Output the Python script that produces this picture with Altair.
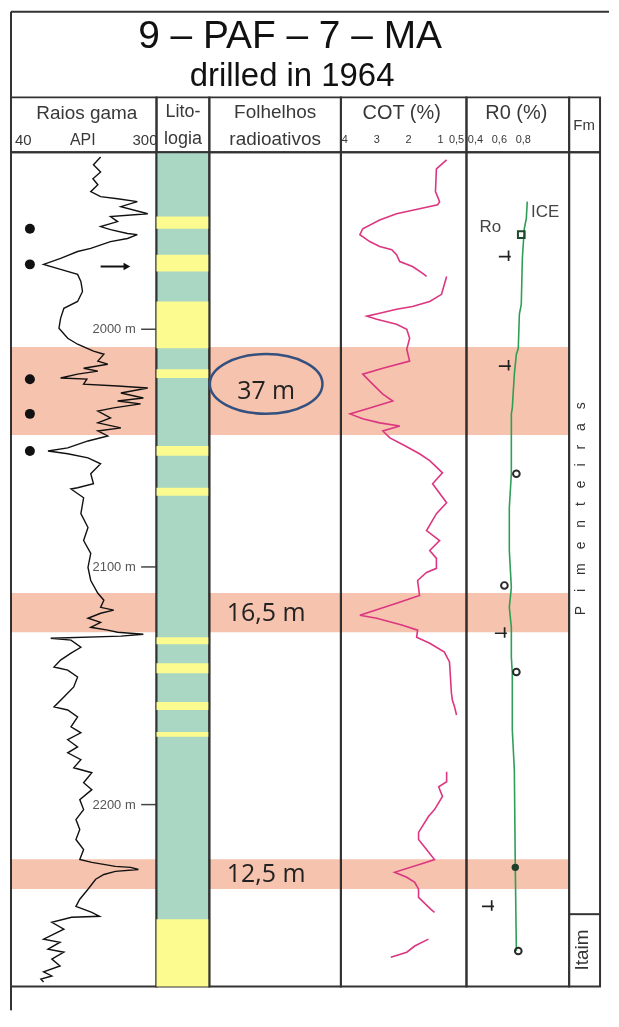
import altair as alt
import pandas as pd

# ---------------- texts ----------------
TITLE = "9 – PAF – 7 – MA"
SUBTITLE = "drilled in 1964"
HEAD_GR = "Raios gama"
HEAD_GR_UNIT = "API"
HEAD_LIT = ["Lito-", "logia"]
HEAD_FOL = ["Folhelhos", "radioativos"]
HEAD_COT = "COT (%)"
HEAD_RO = "R0 (%)"
HEAD_FM = "Fm"

DEPTH_DOMAIN = [1925.5, 2276.5]

# ---------------- gamma ray (API) ----------------
GR_DOMAIN = [34.5, 300]
gr_tick_values = [40, 300]
gr_tick_labels = ["40", "300"]
gr_depth = [1927.5, 1930.8, 1933.8, 1936.7, 1939.2, 1942.1, 1944.2, 1945.1, 1946.3, 1948.4,
            1951.4, 1952.6, 1954.7, 1956.8, 1958.1, 1959.7, 1960.2, 1961.8, 1963.1, 1966.0,
            1967.3, 1970.2, 1972.7, 1974.8, 1976.9, 1979.9, 1984.1, 1988.3, 1991.2, 1995.4,
            1999.6, 2003.8, 2006.3, 2009.2, 2010.5, 2013.4, 2014.7, 2016.4, 2017.6, 2018.9,
            2020.5, 2021.0, 2023.1, 2023.9, 2024.7, 2026.8, 2028.9, 2030.2, 2031.4, 2033.1,
            2034.4, 2037.3, 2039.4, 2041.5, 2042.8, 2044.9, 2047.0, 2049.9, 2051.2, 2052.4,
            2054.1, 2056.6, 2060.8, 2065.0, 2066.7, 2067.2, 2070.9, 2077.6, 2083.4, 2088.9,
            2094.3, 2100.2, 2105.7, 2111.1, 2114.0, 2117.0, 2118.2, 2119.5, 2121.6, 2123.3,
            2125.4, 2126.6, 2127.5, 2128.3, 2129.1, 2130.0, 2130.8, 2133.8, 2136.3, 2139.2,
            2142.1, 2143.4, 2146.3, 2150.5, 2154.7, 2158.9, 2160.2, 2163.1, 2167.3, 2169.8,
            2172.7, 2175.7, 2178.2, 2181.1, 2184.5, 2186.6, 2190.8, 2193.7, 2197.9, 2202.1,
            2206.3, 2210.5, 2214.7, 2218.9, 2223.1, 2224.3, 2226.0, 2226.4, 2227.3, 2228.1,
            2229.4, 2231.4, 2235.6, 2239.8, 2242.8, 2245.3, 2247.0, 2247.4, 2249.5, 2252.4,
            2256.6, 2257.9, 2260.8, 2262.1, 2265.0, 2267.9, 2270.4, 2272.1, 2273.4, 2274.6]
gr_api = [198, 185, 198, 184, 193, 180, 198, 229, 265, 235,
          284, 216, 229, 198, 216, 247, 265, 247, 216, 180,
          156, 125, 94, 125, 156, 162, 165, 156, 131, 125,
          122, 138, 156, 185, 204, 193, 211, 167, 193, 156,
          125, 173, 167, 229, 284, 235, 276, 229, 271, 222,
          193, 216, 193, 235, 193, 211, 175, 138, 102, 138,
          175, 198, 180, 185, 156, 144, 167, 162, 175, 167,
          180, 175, 180, 193, 204, 198, 222, 198, 175, 198,
          180, 211, 229, 276, 235, 107, 144, 162, 144, 125,
          113, 138, 156, 149, 131, 113, 138, 156, 144, 162,
          138, 156, 138, 162, 149, 182, 167, 182, 160, 167,
          153, 160, 153, 167, 160, 182, 225, 253, 267, 225,
          204, 189, 175, 160, 153, 182, 196, 145, 109, 131,
          94, 124, 102, 131, 109, 124, 94, 109, 89, 94]

dot_depth = [1957.7, 1972.7, 2021.0, 2035.6, 2051.2]
dot_api = [69, 69, 69, 69, 69]

arrow_depth = [1973.6]
arrow_from = [198]
arrow_to = [246]

depth_marks = [2000, 2100, 2200]
depth_mark_labels = ["2000 m", "2100 m", "2200 m"]
DEPTH_LABEL_API = 262
DEPTH_TICK_API = [272, 300]

# ---------------- radioactive shale intervals ----------------
band_top = [2007.5, 2111.0, 2223.0]
band_base = [2044.5, 2127.5, 2235.5]
band_label = ["37 m", "16,5 m", "12,5 m"]
circled_depth = [2023.0]

# ---------------- lithology (sandstone beds) ----------------
yellow_top = [1952.6, 1968.6, 1988.3, 2016.8, 2049.1, 2066.7, 2129.6, 2140.5, 2156.8, 2169.4, 2248.2]
yellow_base = [1957.7, 1975.7, 2008.0, 2020.5, 2053.2, 2070.0, 2132.5, 2144.7, 2160.2, 2171.5, 2276.5]

# ---------------- COT (%) ----------------
COT_DOMAIN = [4.125, 0.1875]
cot_tick_values = [4, 3, 2, 1, 0.5]
cot_tick_labels = ["4", "3", "2", "1", "0,5"]
cot1_depth = [1928.7, 1932.5, 1942.1, 1946.3, 1947.6, 1949.3, 1951.4, 1954.0, 1957.7, 1960.2,
              1963.1, 1965.2, 1966.5, 1968.6, 1971.5, 1973.6, 1976.5, 1977.8]
cot1_val = [0.81, 1.13, 1.16, 1.03, 1.09, 1.66, 2.38, 2.91, 3.44, 3.53,
            3.22, 2.91, 2.53, 2.38, 2.28, 1.88, 1.56, 1.44]
cot2_depth = [1977.8, 1981.1, 1985.3, 1988.3, 1990.4, 1991.6, 1993.3, 1994.5, 1995.8, 1997.9,
              2000.0, 2003.8, 2008.4, 2013.4, 2016.4, 2018.9, 2023.1, 2027.3, 2030.2, 2033.1,
              2035.6, 2037.7, 2039.4, 2040.7, 2042.8, 2045.7, 2048.5, 2052.4, 2055.3, 2060.4,
              2065.0, 2073.0, 2077.6, 2084.7, 2088.9, 2093.1, 2096.4, 2100.6, 2102.3, 2105.7,
              2112.0, 2115.3, 2120.3, 2121.6, 2124.5, 2126.6, 2129.6, 2132.1, 2135.8, 2140.0,
              2153.0, 2156.0, 2158.9, 2162.3]
cot2_val = [0.81, 0.88, 0.97, 1.34, 1.88, 2.38, 2.91, 3.31, 3.0, 2.38,
            2.06, 1.97, 2.06, 1.97, 2.81, 3.44, 3.13, 2.81, 2.5, 3.22,
            3.84, 3.44, 2.91, 2.28, 2.81, 2.59, 2.19, 1.66, 1.34, 0.94,
            1.25, 0.81, 1.13, 1.44, 1.03, 1.34, 1.13, 1.13, 1.44, 1.72,
            1.66, 2.38, 3.53, 3.0, 2.19, 1.72, 1.75, 1.34, 0.88, 0.72,
            0.66, 0.63, 0.56, 0.5]
cot3_depth = [2186.2, 2190.4, 2192.5, 2196.6, 2202.1, 2205.0, 2211.7, 2214.7, 2218.9, 2223.1,
              2224.3, 2228.5, 2230.6, 2232.7, 2235.6, 2239.0, 2244.0, 2245.3]
cot3_val = [0.81, 0.81, 1.06, 0.94, 1.19, 1.38, 1.69, 1.69, 1.44, 1.19,
            1.44, 2.44, 2.06, 1.81, 1.69, 1.69, 1.31, 1.19]
cot4_depth = [2256.6, 2259.5, 2262.1, 2264.2]
cot4_val = [1.38, 1.81, 2.06, 2.56]

# ---------------- R0 (%) ----------------
RO_DOMAIN = [0.325, 1.183]
ro_tick_values = [0.4, 0.6, 0.8]
ro_tick_labels = ["0,4", "0,6", "0,8"]
ice_depth = [1946.3, 1953.5, 1957.7, 1970.2, 1989.5, 1993.7, 2008.0, 2010.5, 2018.9, 2033.1,
             2035.6, 2060.8, 2075.1, 2093.1, 2108.6, 2117.0, 2125.4, 2137.9, 2144.7, 2168.6,
             2185.3, 2226.4, 2261.6]
ice_val = [0.833, 0.825, 0.808, 0.792, 0.783, 0.767, 0.758, 0.742, 0.725, 0.708,
           0.70, 0.70, 0.683, 0.683, 0.70, 0.683, 0.70, 0.70, 0.708, 0.708,
           0.725, 0.733, 0.742]
ro_plus_depth = [1969.4, 2015.5, 2127.9, 2242.8]
ro_plus_val = [0.658, 0.658, 0.625, 0.517]
ro_open_depth = [2060.8, 2107.8, 2144.2, 2261.6]
ro_open_val = [0.742, 0.642, 0.742, 0.758]
ro_square_depth = [1960.2]
ro_square_val = [0.783]
ro_filled_depth = [2226.4]
ro_filled_val = [0.733]
ro_text = ["Ro", "ICE"]
ro_text_depth = [1956.8, 1950.5]
ro_text_val = [0.525, 0.983]

# ---------------- formations ----------------
fm_names = ["Pimenteiras", "Itaim"]
fm_label_depth = [2075.5, 2261.2]
fm_boundary = [2246.1]

# ---------------- style ----------------
PINK = "#f6c3ae"
GREEN = "#a9d7c4"
YELLOW = "#fbfb8f"
COT_COLOR = "#dc3680"
ICE_COLOR = "#2f9e57"
FRAME = "#333333"
ELLIPSE_COLOR = "#34507f"
HEAD_FONT = "Liberation Sans Narrow, Liberation Sans, Arial, sans-serif"
TITLE_FONT = "Liberation Sans, Arial, sans-serif"
BODY_FONT = "Open Sans"
HEAD_COLOR = "#383838"

W_GR, W_LIT, W_FOL, W_COT, W_RO, W_FM = 146, 53, 132, 126, 103, 31
H_TOP, H_HEAD, H_TRACK = 86, 55, 837

ELLIPSE_PATH = ("M -1 0 C -1 -0.2927 -0.5523 -0.53 0 -0.53 C 0.5523 -0.53 1 -0.2927 1 0 "
                "C 1 0.2927 0.5523 0.53 0 0.53 C -0.5523 0.53 -1 0.2927 -1 0 Z")
PLUS_PATH = "M -1 0 L 0.6 0 M 0.3 -0.8 L 0.3 0.6"

one = pd.DataFrame({"k": [0]})


def y_enc(field="depth"):
    return alt.Y(f"{field}:Q", scale=alt.Scale(domain=DEPTH_DOMAIN, reverse=True, nice=False, zero=False),
                 axis=None)


def sc(domain):
    return alt.Scale(domain=domain, nice=False, zero=False)


def label(text, x, y, size, font=HEAD_FONT, color=HEAD_COLOR, align="center", baseline="middle", **kw):
    return alt.Chart(one).mark_text(text=text, font=font, fontSize=size, color=color, align=align,
                                    baseline=baseline, **kw).encode(x=alt.value(x), y=alt.value(y))


bands = pd.DataFrame({"top": band_top, "base": band_base, "label": band_label})


def band_layer():
    return alt.Chart(bands).mark_rect(color=PINK, blend="multiply").encode(y=y_enc("top"), y2="base:Q")


gr_x = sc(GR_DOMAIN)
cot_x = sc(COT_DOMAIN)
ro_x = sc(RO_DOMAIN)

# ---------------- header row (title block drawn above the first cell) ----------------
gr_head = alt.layer(
    alt.Chart(one).mark_rule(color=FRAME, strokeWidth=2).encode(
        x=alt.value(0), x2=alt.value(600), y=alt.value(-H_TOP)),
    alt.Chart(one).mark_rule(color=FRAME, strokeWidth=2).encode(
        x=alt.value(0), y=alt.value(-H_TOP), y2=alt.value(0)),
    label(TITLE, 280, -50, 39, font=TITLE_FONT, color="#111111", baseline="alphabetic"),
    label(SUBTITLE, 282, -11, 33, font=TITLE_FONT, color="#111111", baseline="alphabetic"),
    label(HEAD_GR, 76, 16, 19),
    label(HEAD_GR_UNIT, 72, 43, 16),
    alt.Chart(pd.DataFrame({"v": gr_tick_values[:1], "t": gr_tick_labels[:1]})).mark_text(
        font=HEAD_FONT, fontSize=15, color=HEAD_COLOR, align="left", dx=1).encode(
        x=alt.X("v:Q", scale=gr_x, axis=None), y=alt.value(43), text="t:N"),
    alt.Chart(pd.DataFrame({"v": gr_tick_values[1:], "t": gr_tick_labels[1:]})).mark_text(
        font=HEAD_FONT, fontSize=15, color=HEAD_COLOR, align="right", dx=1).encode(
        x=alt.X("v:Q", scale=gr_x, axis=None), y=alt.value(43), text="t:N"),
).properties(width=W_GR, height=H_HEAD)

lit_head = alt.layer(
    label(HEAD_LIT[0], 26.5, 15, 18),
    label(HEAD_LIT[1], 26.5, 42, 18),
).properties(width=W_LIT, height=H_HEAD)

fol_head = alt.layer(
    label(HEAD_FOL[0], 66, 15, 19),
    label(HEAD_FOL[1], 66, 42, 19),
).properties(width=W_FOL, height=H_HEAD)

cot_head = alt.layer(
    label(HEAD_COT, 61, 16, 20),
    alt.Chart(pd.DataFrame({"v": cot_tick_values, "t": cot_tick_labels})).mark_text(
        font=HEAD_FONT, fontSize=11, color=HEAD_COLOR).encode(
        x=alt.X("v:Q", scale=cot_x, axis=None), y=alt.value(43), text="t:N"),
).properties(width=W_COT, height=H_HEAD)

ro_head = alt.layer(
    label(HEAD_RO, 50, 16, 20),
    alt.Chart(pd.DataFrame({"v": ro_tick_values, "t": ro_tick_labels})).mark_text(
        font=HEAD_FONT, fontSize=11, color=HEAD_COLOR).encode(
        x=alt.X("v:Q", scale=ro_x, axis=None), y=alt.value(43), text="t:N"),
).properties(width=W_RO, height=H_HEAD)

fm_head = alt.layer(label(HEAD_FM, 15, 28, 15)).properties(width=W_FM, height=H_HEAD)

# ---------------- tracks ----------------
gr_df = pd.DataFrame({"depth": gr_depth, "api": gr_api})
dm_df = pd.DataFrame({"depth": depth_marks, "label": depth_mark_labels})
arrow_df = pd.DataFrame({"depth": arrow_depth, "a0": arrow_from, "a1": arrow_to})

gr_track = alt.layer(
    band_layer(),
    alt.Chart(dm_df).mark_text(font=HEAD_FONT, fontSize=13, color="#555555", align="right", baseline="middle").encode(
        x=alt.XDatum(DEPTH_LABEL_API, scale=gr_x, axis=None), y=y_enc(), text="label:N"),
    alt.Chart(dm_df).mark_rule(color="#444444", strokeWidth=1.5).encode(
        x=alt.XDatum(DEPTH_TICK_API[0], scale=gr_x, axis=None), x2=alt.X2Datum(DEPTH_TICK_API[1]), y=y_enc()),
    alt.Chart(gr_df).mark_line(color="#111111", strokeWidth=1.4).encode(
        x=alt.X("api:Q", scale=gr_x, axis=None), y=y_enc(), order="depth:Q"),
    alt.Chart(pd.DataFrame({"depth": dot_depth, "api": dot_api})).mark_point(
        shape="circle", filled=True, color="#111111", size=100, opacity=1).encode(
        x=alt.X("api:Q", scale=gr_x, axis=None), y=y_enc()),
    alt.Chart(arrow_df).mark_rule(color="#111111", strokeWidth=2).encode(
        x=alt.X("a0:Q", scale=gr_x, axis=None), x2="a1:Q", y=y_enc()),
    alt.Chart(arrow_df).mark_point(shape="triangle-right", filled=True, color="#111111", size=60, opacity=1).encode(
        x=alt.X("a1:Q", scale=gr_x, axis=None), y=y_enc()),
    alt.Chart(one).mark_rule(color=FRAME, strokeWidth=2).encode(
        x=alt.value(0), y=alt.value(H_TRACK), y2=alt.value(H_TRACK + 24)),
).properties(width=W_GR, height=H_TRACK)

lit_track = alt.Chart(pd.DataFrame({"top": yellow_top, "base": yellow_base})).mark_rect(color=YELLOW).encode(
    y=y_enc("top"), y2="base:Q").properties(width=W_LIT, height=H_TRACK, view=alt.ViewBackground(fill=GREEN))

fol_track = alt.layer(
    band_layer(),
    alt.Chart(bands).transform_calculate(mid="(datum.top + datum.base) / 2").mark_text(
        font=BODY_FONT, fontSize=25, color="#222222", baseline="middle").encode(
        x=alt.value(57), y=y_enc("mid"), text="label:N"),
    alt.Chart(pd.DataFrame({"depth": circled_depth})).mark_point(
        shape=ELLIPSE_PATH, size=113 * 113, color=ELLIPSE_COLOR, strokeWidth=2.5, filled=False, opacity=1).encode(
        x=alt.value(57), y=y_enc()),
).properties(width=W_FOL, height=H_TRACK)

cot_df = pd.concat([
    pd.DataFrame({"depth": cot1_depth, "val": cot1_val, "seg": "a"}),
    pd.DataFrame({"depth": cot2_depth, "val": cot2_val, "seg": "b"}),
    pd.DataFrame({"depth": cot3_depth, "val": cot3_val, "seg": "c"}),
    pd.DataFrame({"depth": cot4_depth, "val": cot4_val, "seg": "d"}),
])
cot_track = alt.layer(
    band_layer(),
    alt.Chart(cot_df).mark_line(color=COT_COLOR, strokeWidth=1.6).encode(
        x=alt.X("val:Q", scale=cot_x, axis=None), y=y_enc(), detail="seg:N", order="depth:Q"),
).properties(width=W_COT, height=H_TRACK)

ro_track = alt.layer(
    band_layer(),
    alt.Chart(pd.DataFrame({"depth": ice_depth, "val": ice_val})).mark_line(color=ICE_COLOR, strokeWidth=1.6).encode(
        x=alt.X("val:Q", scale=ro_x, axis=None), y=y_enc(), order="depth:Q"),
    alt.Chart(pd.DataFrame({"depth": ro_plus_depth, "val": ro_plus_val})).mark_point(
        shape=PLUS_PATH, size=225, color="#222222", strokeWidth=1.7, filled=False, opacity=1).encode(
        x=alt.X("val:Q", scale=ro_x, axis=None), y=y_enc()),
    alt.Chart(pd.DataFrame({"depth": ro_open_depth, "val": ro_open_val})).mark_point(
        shape="circle", size=45, color="#2a2a2a", strokeWidth=2, filled=False, opacity=1).encode(
        x=alt.X("val:Q", scale=ro_x, axis=None), y=y_enc()),
    alt.Chart(pd.DataFrame({"depth": ro_square_depth, "val": ro_square_val})).mark_point(
        shape="square", size=45, color="#1e4a2c", strokeWidth=2, filled=False, opacity=1).encode(
        x=alt.X("val:Q", scale=ro_x, axis=None), y=y_enc()),
    alt.Chart(pd.DataFrame({"depth": ro_filled_depth, "val": ro_filled_val})).mark_point(
        shape="circle", size=55, color="#1f3f28", filled=True, opacity=1).encode(
        x=alt.X("val:Q", scale=ro_x, axis=None), y=y_enc()),
    alt.Chart(pd.DataFrame({"depth": ro_text_depth, "val": ro_text_val, "t": ro_text})).mark_text(
        font=HEAD_FONT, fontSize=17, color="#444444", baseline="middle").encode(
        x=alt.X("val:Q", scale=ro_x, axis=None), y=y_enc(), text="t:N"),
).properties(width=W_RO, height=H_TRACK)

fm_track = alt.layer(
    alt.Chart(pd.DataFrame({"depth": fm_label_depth[:1], "t": ["\u2003".join(fm_names[0])]})).mark_text(
        font=HEAD_FONT, fontSize=14, color="#333333", angle=270, baseline="middle").encode(
        x=alt.value(12), y=y_enc(), text="t:N"),
    alt.Chart(pd.DataFrame({"depth": fm_label_depth[1:], "t": fm_names[1:]})).mark_text(
        font=HEAD_FONT, fontSize=19, color="#333333", angle=270, baseline="middle").encode(
        x=alt.value(13), y=y_enc(), text="t:N"),
    alt.Chart(pd.DataFrame({"depth": fm_boundary})).mark_rule(color=FRAME, strokeWidth=2).encode(y=y_enc()),
).properties(width=W_FM, height=H_TRACK)

chart = alt.concat(
    gr_head, lit_head, fol_head, cot_head, ro_head, fm_head,
    gr_track, lit_track, fol_track, cot_track, ro_track, fm_track,
    columns=6, spacing=0, bounds="flush",
).properties(
    padding={"left": 1, "top": 0, "right": 0, "bottom": 0}
).configure_view(stroke=FRAME, strokeWidth=2)

chart.save("out.html", embed_options={"renderer": "svg", "actions": False})
